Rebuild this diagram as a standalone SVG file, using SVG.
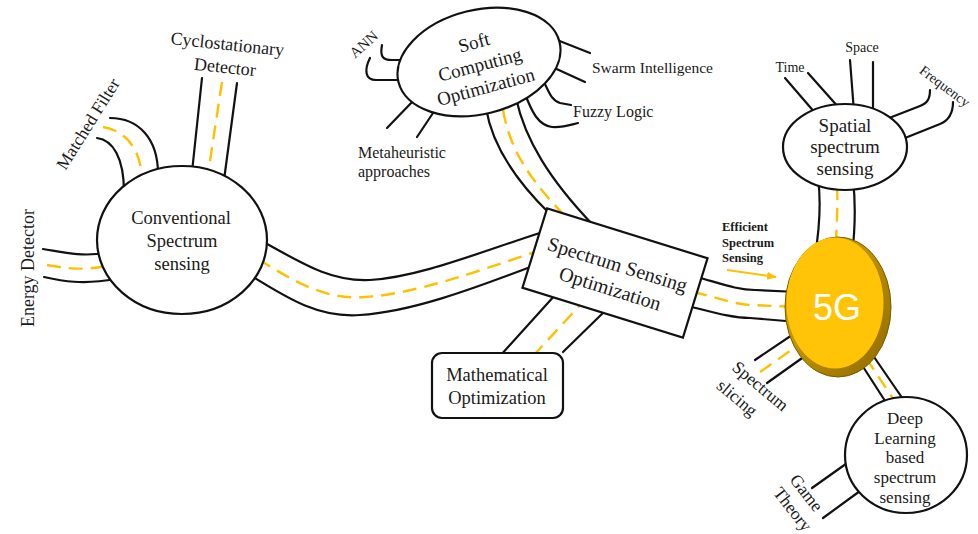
<svg xmlns="http://www.w3.org/2000/svg" width="978" height="534" viewBox="0 0 978 534">
  <defs>
    <style>
      .road{fill:none;stroke:#111;stroke-width:2.2;stroke-linecap:round}
      .lane{fill:none;stroke:#FFC000;stroke-width:2.4;stroke-dasharray:14 8}
      .node{fill:#fff;stroke:#111;stroke-width:2.2}
      text{font-family:"Liberation Serif","Times New Roman",serif;fill:#1a1a1a}
      .c{text-anchor:middle}
      .n18{font-size:18px}
      .n19{font-size:19px}
      .n16{font-size:16px}
      .n14{font-size:14px}
      .bold{font-weight:bold;font-size:12.5px}
    </style>
    <marker id="arrowhead" viewBox="0 0 10 10" refX="9" refY="5" markerWidth="5" markerHeight="5" orient="auto">
      <path d="M0,1 L10,5 L0,9 Z" fill="#FFC000"/>
    </marker>
    <linearGradient id="rim" x1="0" y1="0" x2="1" y2="1">
      <stop offset="0" stop-color="#E8B000"/>
      <stop offset="1" stop-color="#8C6A00"/>
    </linearGradient>
  </defs>

  <rect width="978" height="534" fill="#fff"/>

  <!-- roads: each is a pair of kerb lines with a dashed yellow centre lane -->
  <g id="connectors">
    <!-- Energy Detector -->
    <path class="road" d="M43,249 C62,252 80,257 106,253"/>
    <path class="road" d="M44,277 C62,281 82,285 116,279"/>
    <path class="lane" d="M47,265 C64,268 82,271 106,266"/>
    <!-- Matched Filter -->
    <path class="road" d="M110,118 C138,118 158,138 158,174"/>
    <path class="road" d="M97,138 C113,140 124,158 124,192"/>
    <path class="lane" d="M103,127 C127,131 141,150 142,180"/>
    <!-- Cyclostationary Detector -->
    <path class="road" d="M202,78 L192,172"/>
    <path class="road" d="M237,83 L224,180"/>
    <path class="lane" d="M222,82 L208,174"/>
    <!-- Conventional -> Spectrum Sensing Optimization -->
    <path class="road" d="M260,240 C300,262 330,282 370,280 C420,277 480,252 546,231"/>
    <path class="road" d="M250,275 C290,300 320,318 360,315 C410,312 470,290 533,266"/>
    <path class="lane" d="M258,259 C295,282 325,300 365,297 C415,294 475,272 541,250"/>
    <!-- ANN -->
    <path class="road" d="M382,45 C380,56 382,60 392,60 L406,60"/>
    <path class="road" d="M370,58 C364,70 365,80 376,80 L405,80"/>
    <!-- Metaheuristic approaches -->
    <path class="road" d="M387,128 L414,100"/>
    <path class="road" d="M417,137 L435,110"/>
    <!-- Swarm Intelligence -->
    <path class="road" d="M590,53 L552,38"/>
    <path class="road" d="M585,82 L550,66"/>
    <!-- Fuzzy Logic -->
    <path class="road" d="M543,80 C549,92 551,100 560,103 L571,105"/>
    <path class="road" d="M525,94 C532,112 538,125 552,127 C562,128 570,125 578,123"/>
    <!-- Soft Computing -> Spectrum Sensing Optimization -->
    <path class="road" d="M486,108 C492,145 515,180 550,214"/>
    <path class="road" d="M516,98 C525,140 550,180 593,225"/>
    <path class="lane" d="M503,110 C510,150 530,180 565,216"/>
    <!-- Mathematical -> Spectrum Sensing Optimization -->
    <path class="road" d="M500,356 L556,294"/>
    <path class="road" d="M563,352 L606,310"/>
    <path class="lane" d="M533,356 L582,303"/>
    <!-- Spectrum Sensing Optimization -> 5G -->
    <path class="road" d="M697,277 C722,284 738,290 755,290 L798,292"/>
    <path class="road" d="M688,306 C716,313 733,318 750,318 L798,322"/>
    <path class="lane" d="M693,292 C720,298 736,305 752,305 L798,307"/>
    <!-- Spatial spectrum sensing -> 5G -->
    <path class="road" d="M818,178 C821,200 820,225 815,256"/>
    <path class="road" d="M853,180 C856,205 855,230 852,256"/>
    <path class="lane" d="M837,186 C838,205 837,225 835,256"/>
    <!-- Time / Space / Frequency -->
    <path class="road" d="M785,78 L816,114"/>
    <path class="road" d="M808,73 L840,109"/>
    <path class="road" d="M850,60 L854,112"/>
    <path class="road" d="M873,62 L873,112"/>
    <path class="road" d="M930,90 C930,98 928,103 920,106 L884,120"/>
    <path class="road" d="M953,102 C953,112 950,120 940,124 L900,140"/>
    <!-- Spectrum slicing -->
    <path class="road" d="M755,360 L795,333"/>
    <path class="road" d="M767,383 L805,356"/>
    <path class="lane" d="M760,372 L800,344"/>
    <!-- 5G -> Deep Learning -->
    <path class="road" d="M860,362 L887,404"/>
    <path class="road" d="M872,354 L905,402"/>
    <path class="lane" d="M866,358 L894,400"/>
    <!-- Game Theory -->
    <path class="road" d="M812,488 L850,461"/>
    <path class="road" d="M823,518 L860,491"/>
    <!-- Efficient spectrum sensing arrow -->
    <path d="M727,270 L776,277" fill="none" stroke="#FFC000" stroke-width="2" marker-end="url(#arrowhead)"/>
  </g>

  <!-- leaf labels -->
  <g id="label-energy-detector"><text class="c n18" transform="translate(34,268) rotate(-90)">Energy Detector</text></g>
  <g id="label-matched-filter"><text class="c" font-size="17.5" transform="translate(93,127) rotate(-58)">Matched Filter</text></g>
  <g id="label-cyclostationary" transform="rotate(6,226,58)">
    <text class="c n18" x="226" y="50">Cyclostationary</text>
    <text class="c n18" x="226" y="73">Detector</text>
  </g>
  <g id="label-ann"><text class="c" font-size="15" transform="translate(367,48) rotate(-42)">ANN</text></g>
  <g id="label-metaheuristic">
    <text class="n16" x="358" y="158">Metaheuristic</text>
    <text class="n16" x="358" y="177">approaches</text>
  </g>
  <g id="label-swarm"><text font-size="15.5" x="592" y="73">Swarm Intelligence</text></g>
  <g id="label-fuzzy"><text class="n16" x="573" y="117">Fuzzy Logic</text></g>
  <g id="label-time"><text class="c n14" x="790" y="72">Time</text></g>
  <g id="label-space"><text class="c n14" x="862" y="52">Space</text></g>
  <g id="label-frequency"><text class="c n14" transform="translate(942,90) rotate(37)">Frequency</text></g>
  <g id="label-efficient">
    <text class="bold" x="722" y="231">Efficient</text>
    <text class="bold" x="722" y="247">Spectrum</text>
    <text class="bold" x="722" y="262">Sensing</text>
  </g>
  <g id="label-spectrum-slicing" transform="translate(731,369) rotate(40)">
    <text font-size="17.5" x="0" y="0">Spectrum</text>
    <text font-size="17.5" x="0" y="24">slicing</text>
  </g>
  <g id="label-game-theory" transform="translate(789,480) rotate(52)">
    <text font-size="17.5" x="0" y="0">Game</text>
    <text font-size="17.5" x="0" y="21">Theory</text>
  </g>

  <!-- nodes -->
  <g id="conventional">
    <ellipse class="node" cx="182" cy="240" rx="85" ry="74"/>
    <text class="c" font-size="18.5" x="181" y="224">Conventional</text>
    <text class="c" font-size="18.5" x="182" y="247">Spectrum</text>
    <text class="c" font-size="18.5" x="182" y="270">sensing</text>
  </g>

  <g id="soft-computing">
    <ellipse class="node" cx="479" cy="62" rx="83" ry="52" transform="rotate(-14,479,62)"/>
    <g transform="translate(480,65) rotate(-15)">
      <text class="c n19" x="0" y="-17">Soft</text>
      <text class="c n19" x="0" y="6">Computing</text>
      <text class="c n19" x="0" y="29">Optimization</text>
    </g>
  </g>

  <g id="spectrum-sensing-optimization" transform="translate(615,273) rotate(17.25)">
    <rect class="node" x="-84" y="-41.5" width="168" height="83"/>
    <text class="c" font-size="20" x="0" y="-2">Spectrum Sensing</text>
    <text class="c" font-size="20" x="0" y="23">Optimization</text>
  </g>

  <g id="mathematical">
    <rect class="node" x="432" y="353" width="131" height="65" rx="10"/>
    <text class="c" font-size="18.5" x="497" y="381">Mathematical</text>
    <text class="c" font-size="18.5" x="497" y="404">Optimization</text>
  </g>

  <g id="spatial">
    <ellipse class="node" cx="845" cy="147" rx="62" ry="43"/>
    <text class="c n19" x="845" y="132">Spatial</text>
    <text class="c n19" x="845" y="153">spectrum</text>
    <text class="c n19" x="845" y="175">sensing</text>
  </g>

  <g id="deep-learning">
    <ellipse class="node" cx="906" cy="455" rx="61" ry="58"/>
    <text class="c" font-size="17" x="905" y="424">Deep</text>
    <text class="c" font-size="17" x="905" y="444">Learning</text>
    <text class="c" font-size="17" x="905" y="463">based</text>
    <text class="c" font-size="17" x="905" y="483">spectrum</text>
    <text class="c" font-size="17" x="905" y="503">sensing</text>
  </g>

  <g id="five-g">
    <ellipse cx="838" cy="307" rx="53" ry="70" fill="url(#rim)" stroke="#7A5C00" stroke-width="1"/>
    <ellipse cx="835" cy="303" rx="48.5" ry="65.5" fill="#FFC408"/>
    <text class="c" x="837" y="320" font-size="36" style="fill:#fff;font-family:'Liberation Sans',Arial,sans-serif">5G</text>
  </g>
</svg>
